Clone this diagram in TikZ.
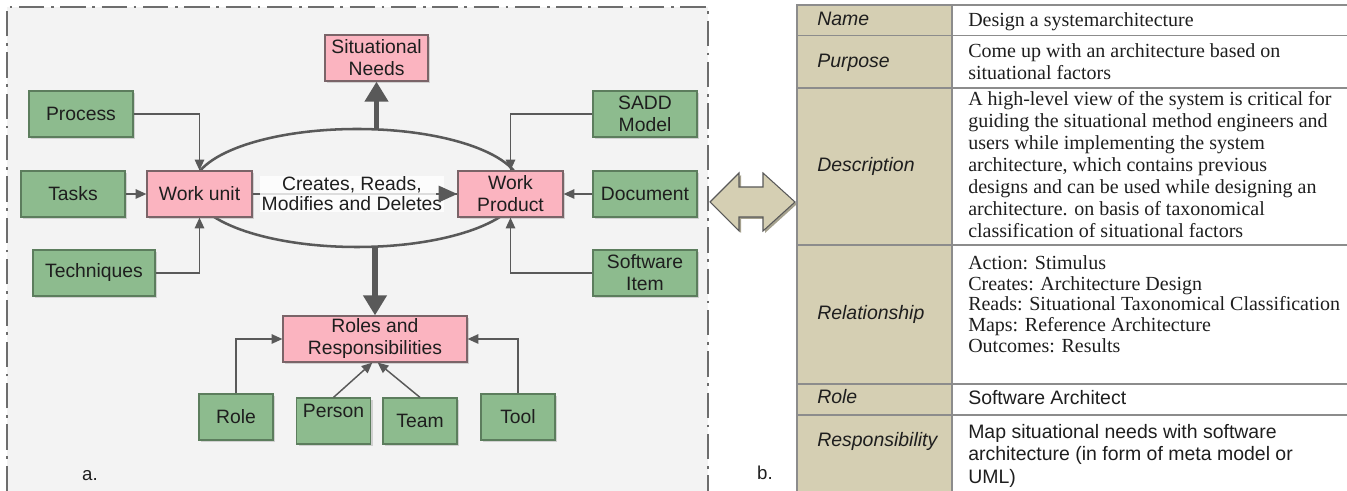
\documentclass[tikz,border=0pt]{standalone}
\usepackage{fontspec}
\setmainfont{Liberation Serif}
\setsansfont{Liberation Sans}
\usetikzlibrary{arrows.meta,shadows,shapes.geometric,calc}

\definecolor{panelbg}{HTML}{F3F3F3}
\definecolor{framegray}{HTML}{6D6D6D}
\definecolor{greenfill}{HTML}{8DBB8E}
\definecolor{greenline}{HTML}{5C7D5D}
\definecolor{pinkfill}{HTML}{FBB4C0}
\definecolor{pinkline}{HTML}{7A6468}
\definecolor{linkgray}{HTML}{595959}
\definecolor{khaki}{HTML}{D5CFB3}
\definecolor{khakidark}{HTML}{8F8A72}
\definecolor{rulegray}{HTML}{8C8C8C}
\definecolor{ink}{HTML}{1E1E1E}

\begin{document}
\begin{tikzpicture}[x=0.75pt,y=-0.75pt,
  box/.style={draw, line width=0.9pt, inner sep=1pt, align=center,
    font=\sffamily\fontsize{14.5}{16.5}\selectfont, text=ink,
    drop shadow={shadow xshift=1.5pt, shadow yshift=-1.5pt, opacity=0.3, fill=black!50}},
  gbox/.style={box, fill=greenfill, draw=greenline, minimum width=78pt, minimum height=34.5pt},
  pbox/.style={box, fill=pinkfill, draw=pinkline, minimum width=78pt, minimum height=34.5pt},
  narrow/.style={minimum width=55.5pt},
  link/.style={draw=linkgray, line width=1.1pt, -{Triangle[length=8pt,width=7pt]}},
  bold link/.style={draw=linkgray, line width=3.8pt, -{Triangle[length=15pt,width=17pt]}},
  tag/.style={font=\sffamily\fontsize{14}{16}\selectfont, text=ink},
  headcell/.style={anchor=base west, inner sep=0pt, text=ink,
    font=\sffamily\itshape\fontsize{14.6}{17}\selectfont},
  serifcell/.style={anchor=north west, inner sep=0pt, align=left, text=ink},
  sanscell/.style={anchor=north west, inner sep=0pt, align=left, text=ink,
    font=\sffamily\fontsize{14.6}{16.9}\selectfont},
]
\useasboundingbox (0,0) rectangle (1347,491);

% ---------- left panel: meta model ----------
\fill[panelbg] (7,7) rectangle (708,491);
\draw[framegray, line width=1.1pt, dash pattern=on 19pt off 5pt on 2pt off 5pt]
  (7,491) -- (7,7) -- (708,7) -- (708,491);

% the CRUD cycle between work unit and work product
\node[draw=linkgray, line width=1.9pt, ellipse, inner sep=0pt,
      minimum width=246pt, minimum height=88.5pt] (loop) at (357,188) {};

\node[pbox, minimum width=77.25pt] (sit) at (376.5,58) {Situational\\Needs};
\node[gbox] (process) at (81,114) {Process};
\node[gbox] (tasks) at (73,194) {Tasks};
\node[pbox, minimum width=78.75pt] (workunit) at (199.5,194) {Work unit};
\node[pbox, minimum width=78.75pt] (workprod) at (510.5,194) {Work\\Product};
\node[gbox] (sadd) at (645,114) {SADD\\Model};
\node[gbox] (doc) at (645,194) {Document};
\node[gbox, minimum width=91.5pt] (tech) at (94,273) {Techniques};
\node[gbox] (soft) at (645,273) {Software\\Item};
\node[pbox, minimum width=138pt] (roles) at (375,339) {Roles and\\Responsibilities};
\node[gbox, narrow] (role) at (236,417) {Role};
\node[gbox, narrow] (person) at (333.5,421) {};
\node[inner sep=1pt, text=ink, font=\sffamily\fontsize{14.5}{16.5}\selectfont]
  (personname) at (333.5,411) {Person};
\node[gbox, narrow] (team) at (420,421) {Team};
\node[gbox, narrow] (tool) at (518,417) {Tool};

% connectors
\draw[link] (process.east) -| (workunit.north);
\draw[link] (tech.east) -| (workunit.south);
\draw[link] (sadd.west) -| (workprod.north);
\draw[link] (soft.west) -| (workprod.south);
\draw[link] (tasks) -- (workunit);
\draw[link] (doc) -- (workprod);
% create / read / modify / delete link, its label, then its head on top
\draw[draw=linkgray, line width=1.9pt]
  (workunit.east) -- node[pos=0.485, fill=white, fill opacity=0.8, text opacity=1,
    inner sep=1pt, align=center, text=ink,
    font=\sffamily\fontsize{14.5}{15}\selectfont] (crud)
    {Creates, Reads,\\Modifies and Deletes} (workprod.west);
\draw[draw=linkgray, line width=1.9pt, -{Triangle[length=14pt,width=12pt]}]
  ([xshift=-16pt]workprod.west) -- (workprod.west);
\draw[bold link] (sit.south |- loop.north) -- (sit.south);
\draw[bold link] (roles.north |- loop.south) -- (roles.north);
\draw[link] (role.north) |- (roles.west);
\draw[link] (tool.north) |- (roles.east);
\draw[link] (person.north) -- ([xshift=-2pt]roles.south);
\draw[link] (team.north) -- ([xshift=2pt]roles.south);

\node[tag] (taga) at (90,476) {a.};
\node[tag] (tagb) at (765,473) {b.};

% ---------- double arrow between the panels ----------
\fill[khakidark!80] (712,204) -- (741,175) -- (741,189) -- (765,189) -- (765,175)
  -- (797,204) -- (765,233) -- (765,219) -- (741,219) -- (741,233) -- cycle;
\filldraw[fill=khaki, draw=linkgray, line width=0.8pt]
  (710,202) -- (739,173) -- (739,187) -- (763,187) -- (763,173)
  -- (795,202) -- (763,231) -- (763,217) -- (739,217) -- (739,231) -- cycle;

% ---------- right panel: method fragment table ----------
\fill[khaki] (797,5) rectangle (952,491);
\begin{scope}[rulegray, line width=1.4pt]
  \draw (797,491) -- (797,5) -- (1347,5);
  \draw (952,5) -- (952,491);
  \foreach \yy in {35.5,88,245,384,415} \draw (797,\yy) -- (1347,\yy);
\end{scope}

\node[headcell] (hname) at (817,26) {Name};
\node[headcell] (hpurpose) at (817,68) {Purpose};
\node[headcell] (hdesc) at (817,172) {Description};
\node[headcell] (hrel) at (817,320) {Relationship};
\node[headcell] (hrole) at (817,404) {Role};
\node[headcell] (hresp) at (817,447) {Responsibility};

\node[serifcell, font=\fontsize{15}{16.5}\selectfont] (vname) at (968,10)
  {\rule{0pt}{12pt}Design a systemarchitecture};
\node[serifcell, font=\fontsize{15}{16.5}\selectfont] (vpurpose) at (968,41)
  {\rule{0pt}{12pt}Come up with an architecture based on\\situational factors};
\node[serifcell, font=\fontsize{15}{16.5}\selectfont] (vdesc) at (968,89)
  {\rule{0pt}{12pt}A high-level view of the system is critical for\\
   guiding the situational method engineers and\\
   users while implementing the system\\
   architecture, which contains previous\\
   designs and can be used while designing an\\
   architecture. on basis of taxonomical\\
   classification of situational factors};
\node[serifcell, font=\fontsize{15}{15.56}\selectfont] (vrel) at (968,253)
  {\rule{0pt}{12pt}Action: Stimulus\\
   Creates: Architecture Design\\
   Reads: Situational Taxonomical Classification\\
   Maps: Reference Architecture\\
   Outcomes: Results};
\node[sanscell] (vrole) at (968,388) {\rule{0pt}{12pt}Software Architect};
\node[sanscell] (vresp) at (968,422)
  {\rule{0pt}{12pt}Map situational needs with software\\
   architecture (in form of meta model or\\
   UML)};
\end{tikzpicture}
\end{document}
